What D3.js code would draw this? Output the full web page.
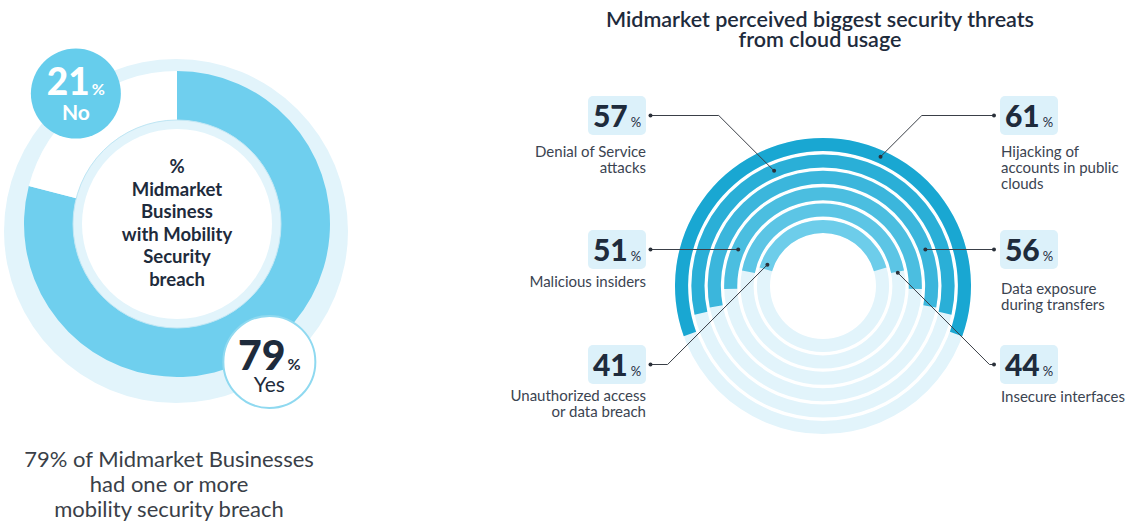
<!DOCTYPE html>
<html>
<head>
<meta charset="utf-8">
<title>Midmarket security</title>
<script src="https://cdn.jsdelivr.net/npm/d3@7"></script>
<style>
  body { margin: 0; background: #fff; }
  svg { display: block; font-family: Lato, "Open Sans", sans-serif; }
</style>
</head>
<body>
<svg id="chart"></svg>
<script>
// ---- data ----
var breachLabels = ["Yes", "No"];
var breachValues = [79, 21];
var centerLines = ["%", "Midmarket", "Business", "with Mobility", "Security", "breach"];
var noteLines = ["79% of Midmarket Businesses", "had one or more", "mobility security breach"];

var titleLines = ["Midmarket perceived biggest security threats", "from cloud usage"];
var threats = ["Hijacking", "Denial", "Exposure", "Insiders", "Interfaces", "Unauthorized"];
var threatValues = [61, 57, 56, 51, 44, 41];
var threatText = [
  ["Hijacking of", "accounts in public", "clouds"],
  ["Denial of Service", "attacks"],
  ["Data exposure", "during transfers"],
  ["Malicious insiders"],
  ["Insecure interfaces"],
  ["Unauthorized access", "or data breach"]
];

// ---- layout ----
var width = 1136, height = 524;
var navy = "#1e2b3c", grey = "#3b4451", pale = "#e2f4fb";

var svg = d3.select("#chart").attr("width", width).attr("height", height);

// ======== left donut ========
var lc = {x: 177, y: 224};
var left = svg.append("g").attr("transform", "translate(" + lc.x + "," + lc.y + ")");

left.append("circle").attr("cx", -1).attr("cy", 7).attr("r", 172).attr("fill", pale);

var pie = d3.pie().sort(null).value(function(d) { return d.value; });
var breach = pie(breachLabels.map(function(l, i) { return {label: l, value: breachValues[i]}; }));
var bandArc = d3.arc().innerRadius(104).outerRadius(153);
var donutFill = ["#6fcfee", "#ffffff"];

left.selectAll("path.seg")
  .data(breach)
  .enter().append("path")
  .attr("class", "seg")
  .attr("d", bandArc)
  .attr("fill", function(d, i) { return donutFill[i]; });

left.append("circle").attr("r", 104).attr("fill", pale).attr("stroke", "#bfe6f4").attr("stroke-width", 1);
left.append("circle").attr("r", 95).attr("fill", "#fff");

left.selectAll("text.center")
  .data(centerLines)
  .enter().append("text")
  .attr("class", "center")
  .attr("y", function(d, i) { return -51 + i * 22.5; })
  .attr("text-anchor", "middle")
  .attr("font-size", 18.5).attr("font-weight", 700).attr("fill", navy)
  .text(function(d) { return d; });

// badges sit on the arc mid angles (small nudge for the Yes badge)
var badgeStyle = [
  {fill: "#fff", stroke: "#8fd9f0", text: navy, r: 46, rad: 166, nudge: 4, num: 41, numDy: 8, labDy: 30, labW: 400},
  {fill: "#66cdec", stroke: "none", text: "#fff", r: 45, rad: 165, nudge: 0, num: 37, numDy: 1, labDy: 26, labW: 700}
];
var badges = left.selectAll("g.badge")
  .data(breach)
  .enter().append("g")
  .attr("class", "badge")
  .attr("transform", function(d, i) {
    var s = badgeStyle[i];
    var a = (d.startAngle + d.endAngle) / 2 + s.nudge * Math.PI / 180;
    return "translate(" + (s.rad * Math.sin(a)) + "," + (-s.rad * Math.cos(a)) + ")";
  });

badges.append("circle")
  .attr("r", function(d, i) { return badgeStyle[i].r; })
  .attr("fill", function(d, i) { return badgeStyle[i].fill; })
  .attr("stroke", function(d, i) { return badgeStyle[i].stroke; })
  .attr("stroke-width", 2);

var bnum = badges.append("text")
  .attr("text-anchor", "middle")
  .attr("y", function(d, i) { return badgeStyle[i].numDy; })
  .attr("fill", function(d, i) { return badgeStyle[i].text; })
  .attr("font-weight", 900);
bnum.append("tspan").attr("font-size", function(d, i) { return badgeStyle[i].num; }).text(function(d) { return d.data.value; });
bnum.append("tspan").attr("font-size", 16).attr("font-weight", 700).attr("dx", 2).text("%");

badges.append("text")
  .attr("text-anchor", "middle")
  .attr("y", function(d, i) { return badgeStyle[i].labDy; })
  .attr("fill", function(d, i) { return badgeStyle[i].text; })
  .attr("font-size", 21)
  .attr("font-weight", function(d, i) { return badgeStyle[i].labW; })
  .text(function(d) { return d.data.label; });

svg.selectAll("text.note")
  .data(noteLines)
  .enter().append("text")
  .attr("class", "note")
  .attr("x", 169)
  .attr("y", function(d, i) { return 467 + i * 25; })
  .attr("text-anchor", "middle")
  .attr("font-size", 22).attr("fill", "#3a3f48")
  .text(function(d) { return d; });

// ======== right radial bars ========
svg.selectAll("text.title")
  .data(titleLines)
  .enter().append("text")
  .attr("class", "title")
  .attr("x", 820)
  .attr("y", function(d, i) { return 26.5 + i * 20; })
  .attr("text-anchor", "middle")
  .attr("font-size", 21.5).attr("font-weight", 600).attr("fill", navy)
  .text(function(d) { return d; });

var rc = {x: 823, y: 286};
var radial = svg.append("g").attr("transform", "translate(" + rc.x + "," + rc.y + ")");

var rows = threats.map(function(t, i) { return {name: t, value: threatValues[i], lines: threatText[i]}; });

var ring = d3.scaleBand().domain(threats).range([148, 53]).paddingInner(0.2);
var angle = d3.scaleLinear().domain([0, 100]).range([0, 2 * Math.PI]);
var ringColor = d3.scaleLinear().domain([0, threats.length - 1]).range(["#19a7d2", "#6dcdea"]);

radial.selectAll("path.track")
  .data(rows)
  .enter().append("path")
  .attr("class", "track")
  .attr("fill", pale)
  .attr("d", d3.arc()
    .innerRadius(function(d) { return ring(d.name); })
    .outerRadius(function(d) { return ring(d.name) + ring.bandwidth(); })
    .startAngle(0).endAngle(2 * Math.PI));

radial.selectAll("path.bar")
  .data(rows)
  .enter().append("path")
  .attr("class", "bar")
  .attr("fill", function(d, i) { return ringColor(i); })
  .attr("d", d3.arc()
    .innerRadius(function(d) { return ring(d.name); })
    .outerRadius(function(d) { return ring(d.name) + ring.bandwidth(); })
    .startAngle(function(d) { return -angle(d.value) / 2; })
    .endAngle(function(d) { return angle(d.value) / 2; }));

// callouts: side, row, pointer angle on the ring (deg from top; null = straight across)
var callouts = [
  {side: 1, row: 0, deg: 24, descDy: 41},
  {side: -1, row: 0, deg: -23, descDy: 41},
  {side: 1, row: 1, deg: null, descDy: 44},
  {side: -1, row: 1, deg: null, descDy: 37},
  {side: 1, row: 2, deg: 80, descDy: 37},
  {side: -1, row: 2, deg: -69, descDy: 36}
];
var rowY = [115.5, 249.5, 364.5];
var boxW = 58, boxH = 39;
var boxX = {"-1": 588, "1": 1000};
var dotX = {"-1": 650.5, "1": 994};

rows.forEach(function(d, i) {
  var c = callouts[i];
  var ly = rowY[c.row];
  var r = ring(d.name) + ring.bandwidth() / 2;
  var th = c.deg === null ? c.side * Math.acos((rc.y - ly) / r) : c.deg * Math.PI / 180;
  var px = rc.x + r * Math.sin(th), py = rc.y - r * Math.cos(th);
  var lx = dotX[c.side];
  var pts = [[px, py]];
  if (Math.abs(ly - py) > 0.5) pts.push([px + c.side * Math.abs(ly - py), ly]);
  pts.push([lx, ly]);

  svg.append("path")
    .attr("d", d3.line()(pts))
    .attr("fill", "none").attr("stroke", "#3a3f47").attr("stroke-width", 1);
  svg.append("circle").attr("cx", px).attr("cy", py).attr("r", 2).attr("fill", "#2b313a");
  svg.append("circle").attr("cx", lx).attr("cy", ly).attr("r", 2).attr("fill", "#2b313a");

  var bx = boxX[c.side];
  svg.append("rect")
    .attr("x", bx).attr("y", ly - boxH / 2)
    .attr("width", boxW).attr("height", boxH)
    .attr("rx", 5).attr("fill", "#dcf1fa");

  var num = svg.append("text")
    .attr("x", bx + boxW / 2).attr("y", ly + 11)
    .attr("text-anchor", "middle").attr("fill", navy);
  num.append("tspan").attr("font-size", 30).attr("font-weight", 900).text(d.value);
  num.append("tspan").attr("font-size", 13).attr("dx", 3).text("%");

  var tx = c.side < 0 ? bx + boxW : bx + 1;
  svg.selectAll(null)
    .data(d.lines)
    .enter().append("text")
    .attr("x", tx)
    .attr("y", function(t, j) { return ly + c.descDy + j * 16; })
    .attr("text-anchor", c.side < 0 ? "end" : "start")
    .attr("font-size", 15).attr("fill", grey)
    .text(function(t) { return t; });
});
</script>
</body>
</html>
